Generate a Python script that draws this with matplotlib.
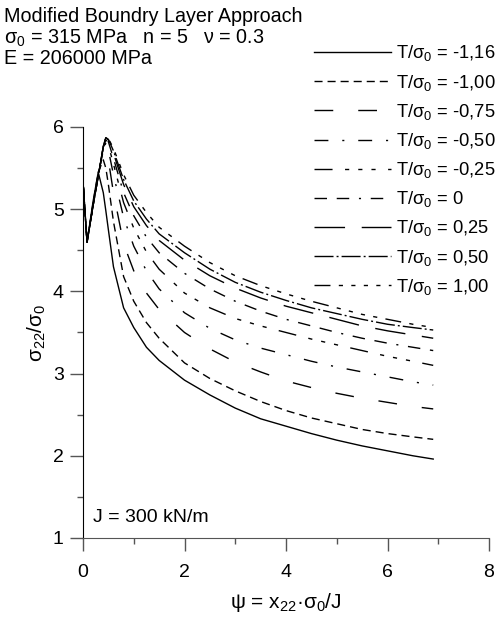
import numpy as np
import matplotlib
matplotlib.use("Agg")
from matplotlib import pyplot as plt
from matplotlib.ticker import MultipleLocator

plt.rcParams['font.family'] = ['Liberation Sans', 'DejaVu Sans']
plt.rcParams['mathtext.fontset'] = 'custom'
plt.rcParams['mathtext.rm'] = 'Liberation Sans'
plt.rcParams['mathtext.it'] = 'Liberation Sans'
plt.rcParams['mathtext.default'] = 'regular'

# psi values where the curves were read
psi = [0, 0.08, 0.2, 0.3, 0.4, 0.45, 0.5, 0.6, 0.8, 1.0, 1.25, 1.5,
       2.0, 2.5, 3.0, 3.5, 4.0, 4.5, 5.0, 5.5, 6.0, 6.5, 6.9]

t_labels = ["-1,16", "-1,00", "-0,75", "-0,50", "-0,25", "0", "0,25", "0,50", "1,00"]

s_m116 = [5.33, 4.6, 5.1, 5.45, 5.2, 4.98, 4.75, 4.3, 3.8, 3.56, 3.32, 3.16,
          2.92, 2.74, 2.58, 2.45, 2.36, 2.27, 2.19, 2.12, 2.06, 2.0, 1.96]
s_m100 = [5.33, 4.6, 5.08, 5.45, 5.6, 5.5, 5.3, 4.85, 4.18, 3.88, 3.62, 3.43,
          3.13, 2.94, 2.79, 2.66, 2.55, 2.46, 2.39, 2.32, 2.27, 2.23, 2.2]
s_m075 = [5.33, 4.6, 5.06, 5.42, 5.72, 5.72, 5.6, 5.2, 4.58, 4.25, 3.98, 3.78,
          3.5, 3.3, 3.14, 3.02, 2.91, 2.83, 2.76, 2.7, 2.65, 2.6, 2.57]
s_m050 = [5.33, 4.6, 5.05, 5.4, 5.75, 5.8, 5.72, 5.42, 4.9, 4.55, 4.25, 4.03,
          3.74, 3.55, 3.41, 3.31, 3.23, 3.15, 3.08, 3.02, 2.96, 2.9, 2.86]
s_m025 = [5.33, 4.6, 5.05, 5.4, 5.76, 5.84, 5.78, 5.55, 5.08, 4.77, 4.48, 4.27,
          3.98, 3.8, 3.67, 3.58, 3.5, 3.42, 3.35, 3.28, 3.21, 3.15, 3.1]
s_0 = [5.33, 4.6, 5.05, 5.4, 5.76, 5.86, 5.82, 5.62, 5.2, 4.92, 4.66, 4.47,
       4.22, 4.03, 3.88, 3.76, 3.66, 3.58, 3.5, 3.43, 3.37, 3.32, 3.28]
s_p025 = [5.33, 4.6, 5.05, 5.4, 5.76, 5.87, 5.84, 5.68, 5.3, 5.03, 4.8, 4.62,
          4.38, 4.19, 4.04, 3.92, 3.82, 3.74, 3.66, 3.58, 3.52, 3.47, 3.43]
s_p050 = [5.33, 4.6, 5.05, 5.4, 5.76, 5.87, 5.85, 5.71, 5.36, 5.1, 4.88, 4.7,
          4.47, 4.27, 4.11, 3.99, 3.89, 3.8, 3.73, 3.66, 3.6, 3.56, 3.53]
s_p100 = [5.33, 4.6, 5.05, 5.4, 5.76, 5.88, 5.86, 5.74, 5.42, 5.17, 4.96, 4.78,
          4.55, 4.35, 4.19, 4.07, 3.97, 3.88, 3.8, 3.72, 3.66, 3.6, 3.56]

curves = [s_m116, s_m100, s_m075, s_m050, s_m025, s_0, s_p025, s_p050, s_p100]

styles = [
    '-',
    (0, (5.8, 3.6)),
    (0, (13.5, 18)),
    (0, (10, 10, 1.5, 10)),
    (0, (13, 9, 3, 6.5, 3, 6.5, 3, 9)),
    (0, (9, 7, 9, 7, 1.5, 7)),
    (0, (22, 12)),
    (0, (13.7, 2.2, 1.4, 2.2)),
    (0, (11.5, 6, 3, 6, 3, 6, 3, 6, 3, 6)),
]

fig = plt.figure(figsize=(4.97, 6.21), dpi=100)
ax = fig.add_axes([0.167, 0.1337, 0.817, 0.6618])

for vals, ls, lab in zip(curves, styles, t_labels):
    ax.plot(psi, vals, color='black', lw=1.0, linestyle=ls,
            label='T/$σ_0$ = ' + lab)

ax.set_xlim(0, 8)
ax.set_ylim(1, 6)
ax.xaxis.set_major_locator(MultipleLocator(2))
ax.xaxis.set_minor_locator(MultipleLocator(1))
ax.yaxis.set_major_locator(MultipleLocator(1))
ax.yaxis.set_minor_locator(MultipleLocator(0.5))

ax.spines['top'].set_visible(False)
ax.spines['right'].set_visible(False)
ax.spines['left'].set_color('black')
ax.spines['bottom'].set_color('#555555')
ax.tick_params(which='major', length=9.4, width=1, color='#555555', labelsize=14)
ax.tick_params(axis='x', which='major', pad=9)
ax.tick_params(axis='y', which='major', pad=4.5)
ax.tick_params(which='minor', length=4.5, width=1, color='#555555')

ax.set_xlabel('ψ = x$_{22}$·$σ_0$/J', fontsize=15)
ax.set_ylabel('$σ_{22}$/$σ_0$', fontsize=15)
ax.xaxis.set_label_coords(0.5, -0.13)
ax.yaxis.set_label_coords(-0.085, 0.5)

ax.text(0.025, 0.04, 'J = 300 kN/m', transform=ax.transAxes, fontsize=14)

fig.text(0.008, 0.974, 'Modified Boundry Layer Approach', fontsize=14.2, va='center')
fig.text(0.008, 0.939, '$σ_0$ = 315 MPa   n = 5   ν = 0.3', fontsize=14.2, va='center')
fig.text(0.008, 0.905, 'E = 206000 MPa', fontsize=14.2, va='center')

ax.legend(loc='upper left', bbox_to_anchor=(0.632, 0.93), bbox_transform=fig.transFigure,
          frameon=False, fontsize=13.2, handlelength=4.2, handletextpad=0.27,
          borderpad=0, borderaxespad=0, labelspacing=0.5)

fig.savefig('out.png', dpi=100)
